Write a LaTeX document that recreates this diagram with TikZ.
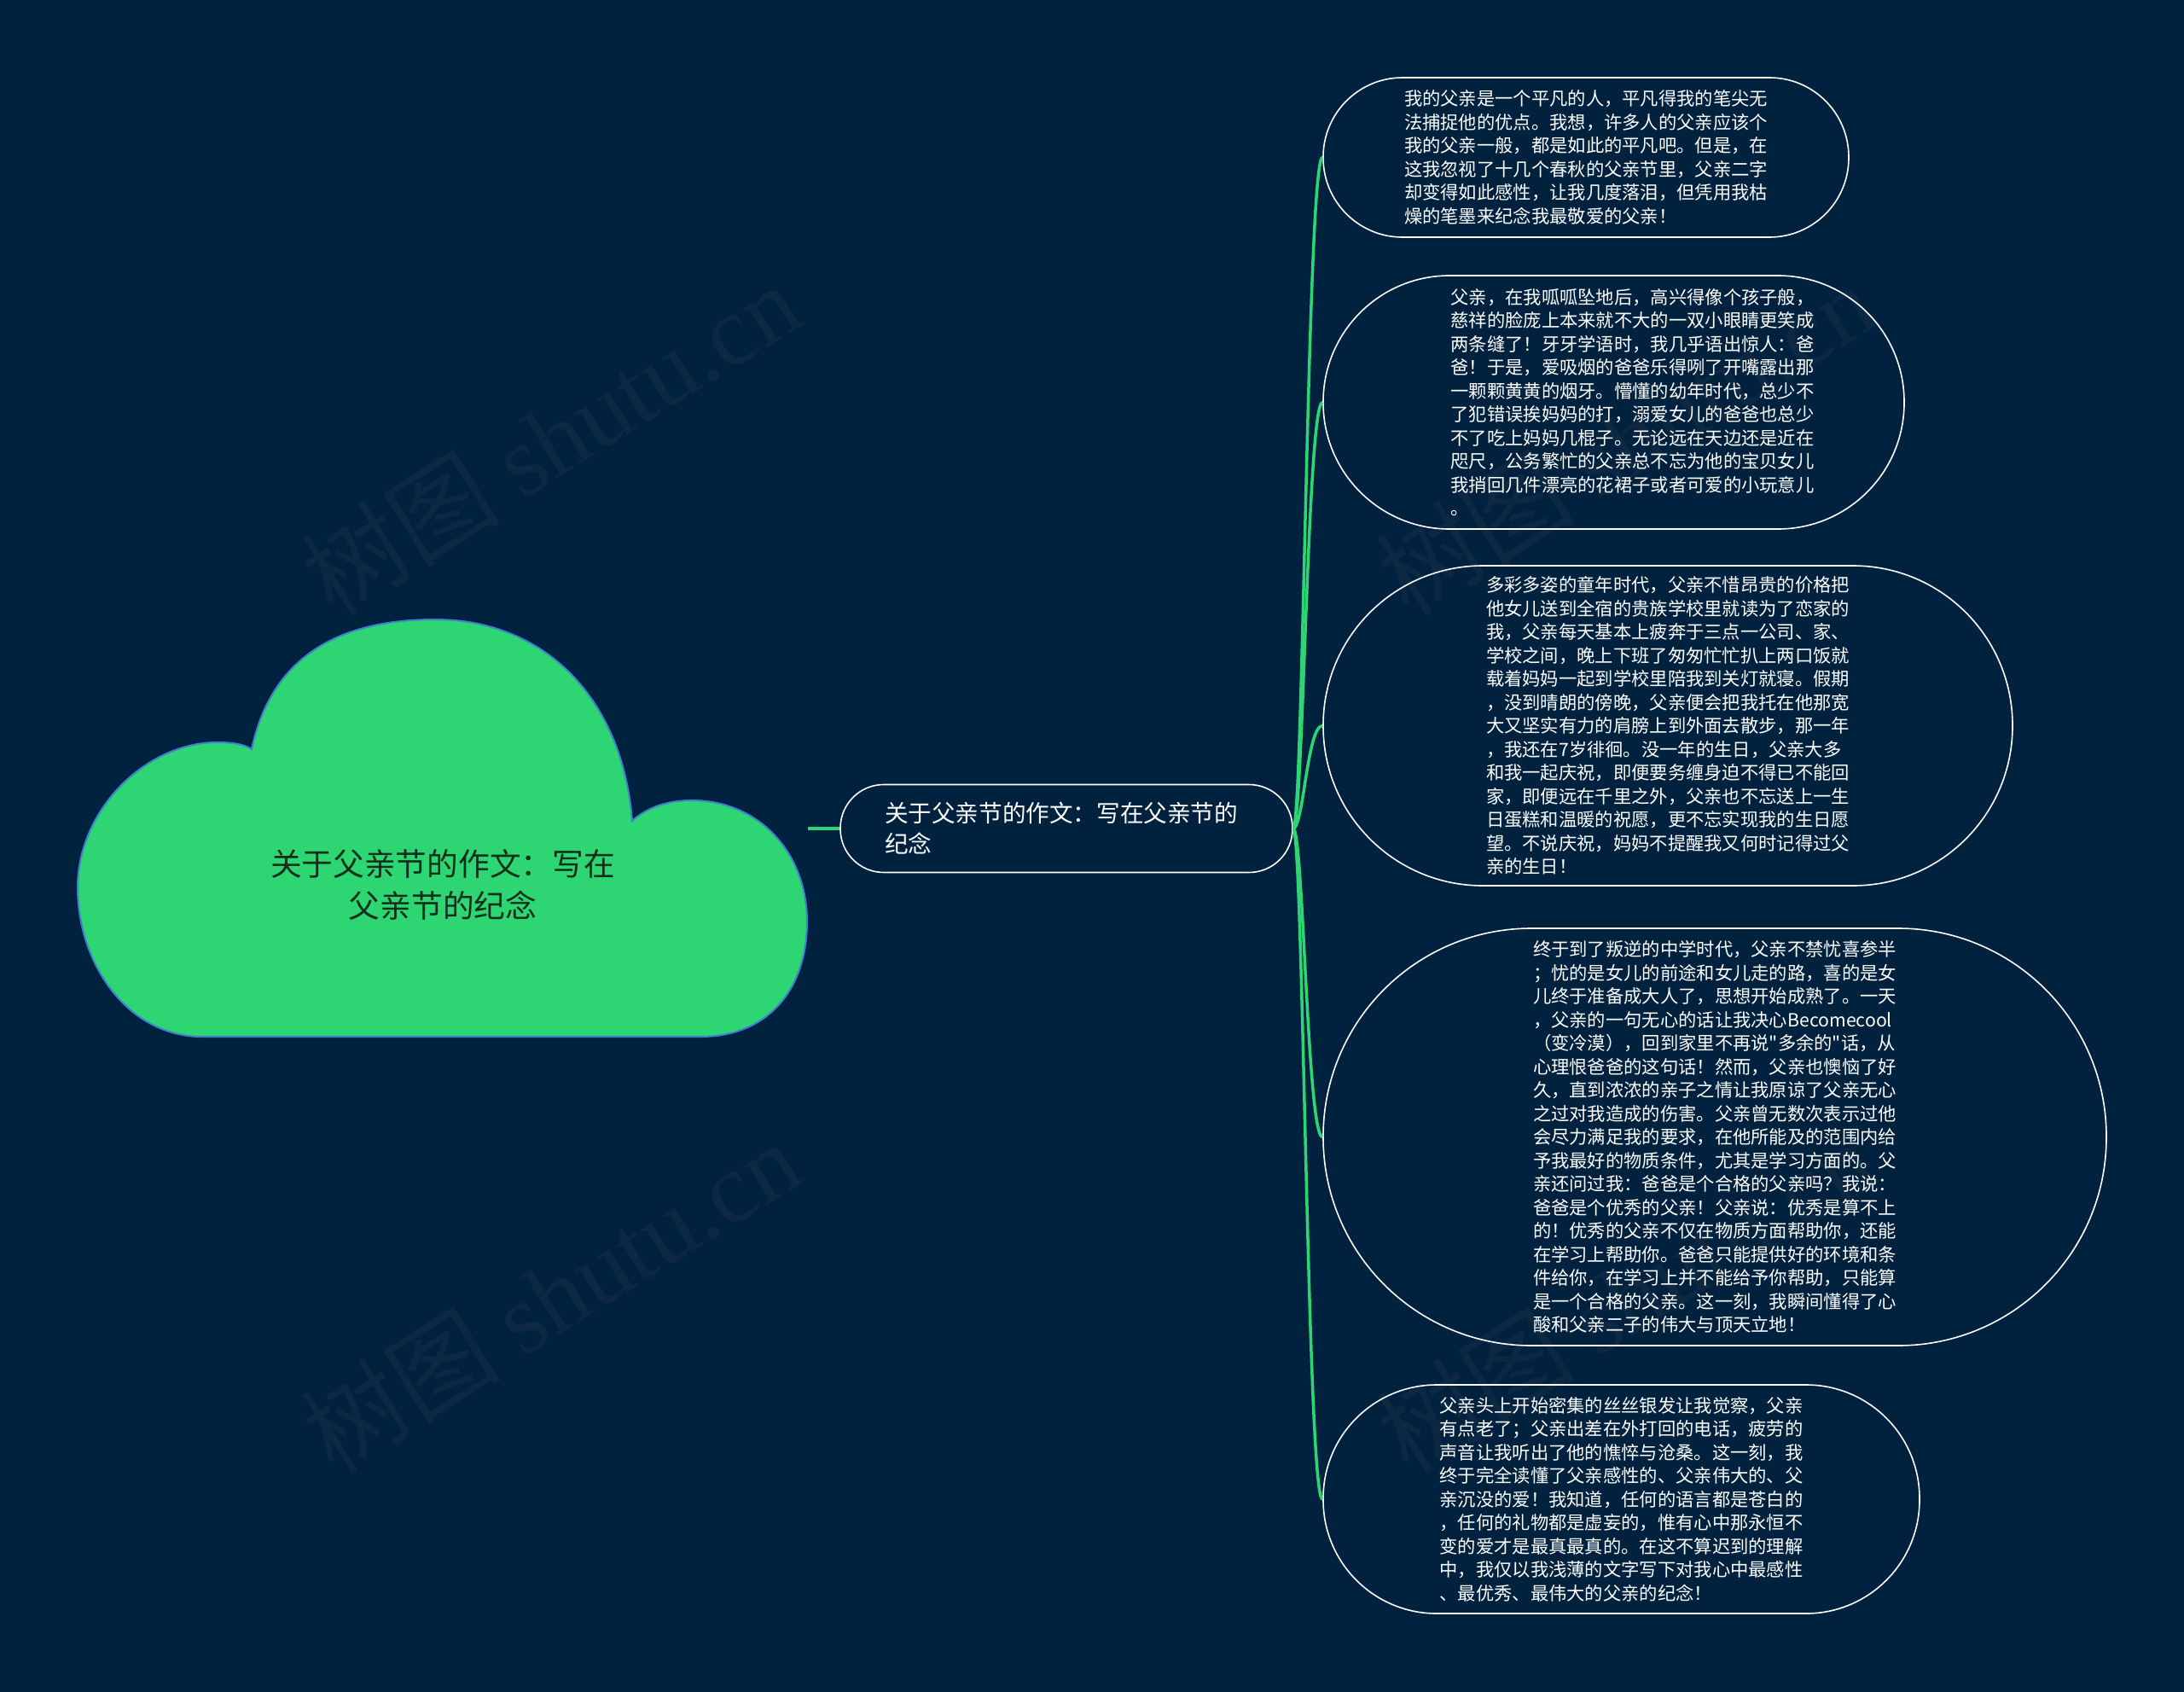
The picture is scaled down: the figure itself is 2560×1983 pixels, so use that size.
\documentclass[tikz,border=0pt]{standalone}
\usepackage{fontspec}
\newfontfamily\cjk{Noto Sans CJK SC}
\newfontfamily\wmlatin{Liberation Serif}
\definecolor{bgc}{HTML}{01223F}
\definecolor{leaf}{HTML}{2ED573}
\definecolor{cloudedge}{HTML}{3F7FD0}
\definecolor{cloudtxt}{HTML}{10301C}
\definecolor{wmc}{HTML}{0C2842}
\newcommand{\ind}{\hspace*{44pt}}
\tikzset{
  pill/.style={draw=white, line width=1.6pt, rounded corners=#1, inner sep=0pt, text=white, align=left},
  leaftext/.style={font=\cjk\fontsize{21.3}{27.5}\selectfont},
  link/.style={draw=leaf, line width=3.5pt},
  wmark/.style={text=wmc, font=\cjk\fontsize{117}{125}\selectfont, rotate=32, inner sep=0pt},
}
\begin{document}
\begin{tikzpicture}[x=1pt,y=-1pt]
\fill[bgc] (0,0) rectangle (2560,1983);
\useasboundingbox (0,0) rectangle (2560,1983);

% watermarks
\node[wmark] (wm1) at (645,514) {树图 {\wmlatin shutu.cn}};
\node[wmark] (wm2) at (645,1519) {树图 {\wmlatin shutu.cn}};
\node[wmark] (wm3) at (1905,514) {树图 {\wmlatin shutu.cn}};
\node[wmark] (wm4) at (1905,1519) {树图 {\wmlatin shutu.cn}};

% cloud
\filldraw[fill=leaf, draw=cloudedge, line width=2pt]
  (237,1215) .. controls (150,1215) and (91,1130) .. (91,1040)
  .. controls (91,950) and (170,870) .. (255,870)
  .. controls (272,870) and (286,872) .. (295,878)
  .. controls (320,760) and (410,726) .. (510,726)
  .. controls (640,726) and (730,820) .. (741,962)
  .. controls (760,945) and (785,938) .. (811,938)
  .. controls (890,938) and (946,1000) .. (946,1080)
  .. controls (946,1160) and (900,1215) .. (821,1215)
  -- cycle;
\node[minimum width=855pt, minimum height=490pt, inner sep=0pt] (cloud) at (519,971) {};
\node[text=cloudtxt, align=center, font=\cjk\fontsize{36.7}{49}\selectfont] (cloudlabel) at (519,1037) {关于父亲节的作文：写在\\父亲节的纪念};

% center node
\node[pill=51pt, minimum width=530pt, minimum height=103pt, font=\cjk\fontsize{27.6}{36}\selectfont] (center) at (1250,971) {\hspace*{-12pt}关于父亲节的作文：写在父亲节的\\\hspace*{-12pt}纪念};

% leaves
\node[pill=93pt, leaftext, minimum width=616pt, minimum height=187pt] (c1) at (1859,184.5) {我的父亲是一个平凡的人，平凡得我的笔尖无\\
法捕捉他的优点。我想，许多人的父亲应该个\\
我的父亲一般，都是如此的平凡吧。但是，在\\
这我忽视了十几个春秋的父亲节里，父亲二字\\
却变得如此感性，让我几度落泪，但凭用我枯\\
燥的笔墨来纪念我最敬爱的父亲！};

\node[pill=148pt, leaftext, minimum width=681pt, minimum height=297pt] (c2) at (1891.5,471.5) {\ind 父亲，在我呱呱坠地后，高兴得像个孩子般，\\
\ind 慈祥的脸庞上本来就不大的一双小眼睛更笑成\\
\ind 两条缝了！牙牙学语时，我几乎语出惊人：爸\\
\ind 爸！于是，爱吸烟的爸爸乐得咧了开嘴露出那\\
\ind 一颗颗黄黄的烟牙。懵懂的幼年时代，总少不\\
\ind 了犯错误挨妈妈的打，溺爱女儿的爸爸也总少\\
\ind 不了吃上妈妈几棍子。无论远在天边还是近在\\
\ind 咫尺，公务繁忙的父亲总不忘为他的宝贝女儿\\
\ind 我捎回几件漂亮的花裙子或者可爱的小玩意儿\\
\ind 。};

\node[pill=187pt, leaftext, minimum width=808pt, minimum height=375pt] (c3) at (1955,850.5) {多彩多姿的童年时代，父亲不惜昂贵的价格把\\
他女儿送到全宿的贵族学校里就读为了恋家的\\
我，父亲每天基本上疲奔于三点一公司、家、\\
学校之间，晚上下班了匆匆忙忙扒上两口饭就\\
载着妈妈一起到学校里陪我到关灯就寝。假期\\
，没到晴朗的傍晚，父亲便会把我托在他那宽\\
大又坚实有力的肩膀上到外面去散步，那一年\\
，我还在7岁徘徊。没一年的生日，父亲大多\\
和我一起庆祝，即便要务缠身迫不得已不能回\\
家，即便远在千里之外，父亲也不忘送上一生\\
日蛋糕和温暖的祝愿，更不忘实现我的生日愿\\
望。不说庆祝，妈妈不提醒我又何时记得过父\\
亲的生日！};

\node[pill=244pt, leaftext, minimum width=918pt, minimum height=489pt] (c4) at (2010,1332.5) {终于到了叛逆的中学时代，父亲不禁忧喜参半\\
；忧的是女儿的前途和女儿走的路，喜的是女\\
儿终于准备成大人了，思想开始成熟了。一天\\
，父亲的一句无心的话让我决心Becomecool\\
（变冷漠），回到家里不再说"多余的"话，从\\
心理恨爸爸的这句话！然而，父亲也懊恼了好\\
久，直到浓浓的亲子之情让我原谅了父亲无心\\
之过对我造成的伤害。父亲曾无数次表示过他\\
会尽力满足我的要求，在他所能及的范围内给\\
予我最好的物质条件，尤其是学习方面的。父\\
亲还问过我：爸爸是个合格的父亲吗？我说：\\
爸爸是个优秀的父亲！父亲说：优秀是算不上\\
的！优秀的父亲不仅在物质方面帮助你，还能\\
在学习上帮助你。爸爸只能提供好的环境和条\\
件给你，在学习上并不能给予你帮助，只能算\\
是一个合格的父亲。这一刻，我瞬间懂得了心\\
酸和父亲二子的伟大与顶天立地！};

\node[pill=133pt, leaftext, minimum width=699pt, minimum height=268pt] (c5) at (1900.5,1757) {父亲头上开始密集的丝丝银发让我觉察，父亲\\
有点老了；父亲出差在外打回的电话，疲劳的\\
声音让我听出了他的憔悴与沧桑。这一刻，我\\
终于完全读懂了父亲感性的、父亲伟大的、父\\
亲沉没的爱！我知道，任何的语言都是苍白的\\
，任何的礼物都是虚妄的，惟有心中那永恒不\\
变的爱才是最真最真的。在这不算迟到的理解\\
中，我仅以我浅薄的文字写下对我心中最感性\\
、最优秀、最伟大的父亲的纪念！};

% connectors
\draw[link, line width=4pt] (cloud.east) -- (center.west);
\foreach \c in {c1,c2,c3,c4,c5}
  \draw[link] (center.east) .. controls +(12,0) and +(-18,0) .. (\c.west);
\end{tikzpicture}
\end{document}
